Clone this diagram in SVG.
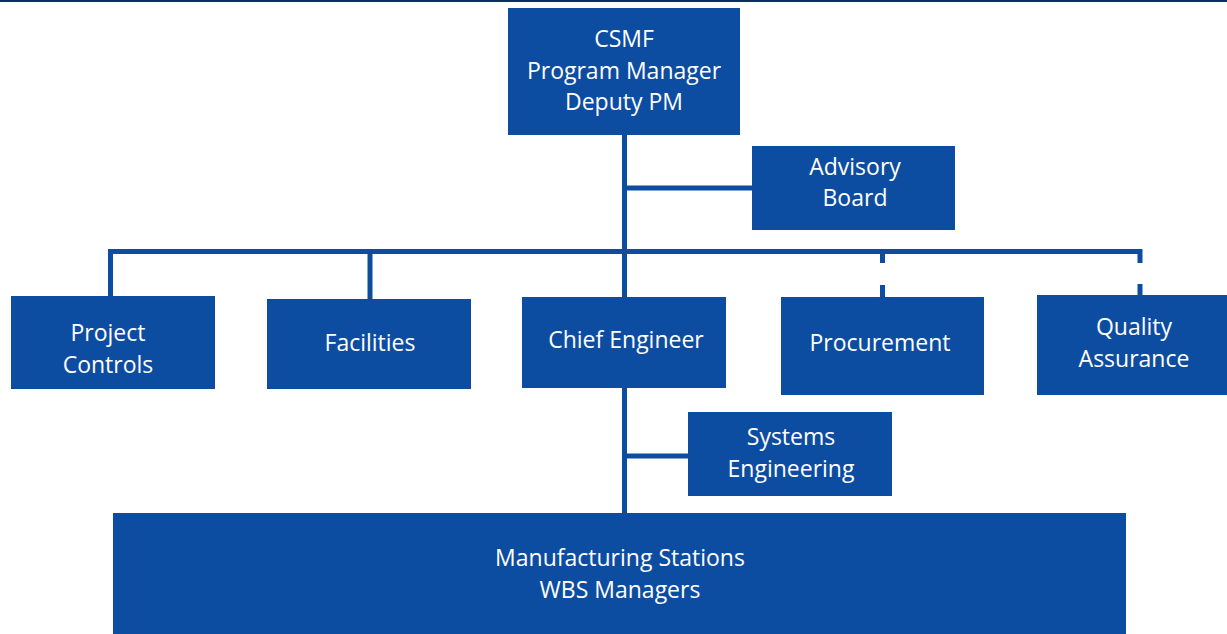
<svg xmlns="http://www.w3.org/2000/svg" width="1227" height="634" viewBox="0 0 1227 634">
<style>
.box{fill:#0d4da1}
.t{fill:#ffffff;font-family:"Open Sans","Liberation Sans",sans-serif;font-size:23px;text-anchor:middle}
.c{stroke:#0d4da1;stroke-width:5;fill:none}
</style>
<rect x="0" y="0" width="1227" height="634" fill="#ffffff"/>
<rect x="0" y="0" width="1227" height="2" fill="#0a2f5c"/>
<g id="connectors">
<line class="c" x1="624.5" y1="134" x2="624.5" y2="297"/>
<line class="c" x1="624.5" y1="188" x2="752" y2="188"/>
<polyline class="c" points="110.5,297 110.5,251.5 1140,251.5 1140,263"/>
<line class="c" x1="882.5" y1="251.5" x2="882.5" y2="263"/>
<line class="c" x1="882.5" y1="285" x2="882.5" y2="297"/>
<line class="c" x1="1140" y1="284" x2="1140" y2="295"/>
<line class="c" x1="370" y1="251.5" x2="370" y2="299"/>
<line class="c" x1="624.5" y1="388" x2="624.5" y2="513"/>
<line class="c" x1="624.5" y1="456" x2="688" y2="456"/>
</g>
<g id="csmf"><rect class="box" x="508" y="8" width="232" height="127"/>
<text class="t" x="624" y="47">CSMF</text><text class="t" x="624" y="79">Program Manager</text><text class="t" x="624" y="110">Deputy PM</text></g>
<g id="advisory"><rect class="box" x="752" y="146" width="203" height="84"/>
<text class="t" x="855" y="175">Advisory</text><text class="t" x="855" y="206">Board</text></g>
<g id="project-controls"><rect class="box" x="11" y="296" width="204" height="93"/>
<text class="t" x="108" y="341">Project</text><text class="t" x="108" y="373">Controls</text></g>
<g id="facilities"><rect class="box" x="267" y="299" width="204" height="90"/>
<text class="t" x="370" y="351">Facilities</text></g>
<g id="chief-engineer"><rect class="box" x="522" y="297" width="204" height="91"/>
<text class="t" x="626" y="348">Chief Engineer</text></g>
<g id="procurement"><rect class="box" x="781" y="297" width="203" height="98"/>
<text class="t" x="880" y="351">Procurement</text></g>
<g id="quality-assurance"><rect class="box" x="1037" y="295" width="190" height="100"/>
<text class="t" x="1134" y="335">Quality</text><text class="t" x="1134" y="367">Assurance</text></g>
<g id="systems-engineering"><rect class="box" x="688" y="412" width="204" height="84"/>
<text class="t" x="791" y="445">Systems</text><text class="t" x="791" y="477">Engineering</text></g>
<g id="manufacturing"><rect class="box" x="113" y="513" width="1013" height="121"/>
<text class="t" x="620" y="566">Manufacturing Stations</text><text class="t" x="620" y="598">WBS Managers</text></g>
</svg>
